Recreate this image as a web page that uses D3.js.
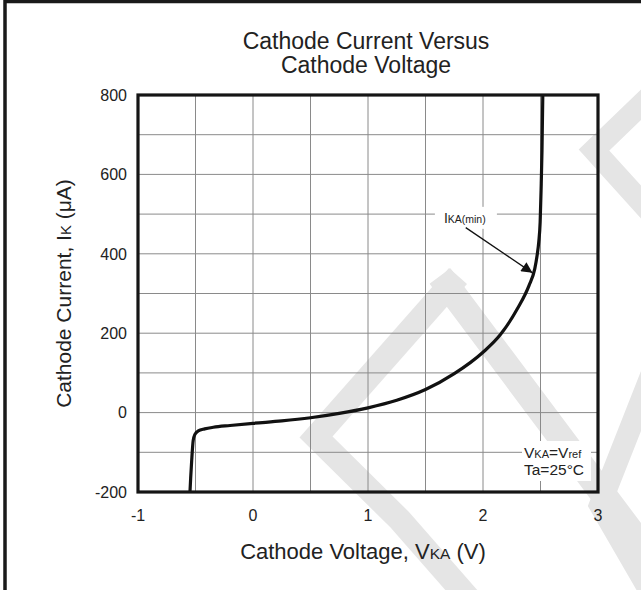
<!DOCTYPE html>
<html>
<head>
<meta charset="utf-8">
<script src="https://cdn.jsdelivr.net/npm/d3@7"></script>
<style>
  body { margin: 0; background: #fff; }
  svg { display: block; font-family: Arial, "Liberation Sans", Helvetica, sans-serif; }
</style>
</head>
<body>
<div id="chart"></div>
<script>
// values (VKA in V, IK in uA)
const vka = [-0.548, -0.542, -0.533, -0.52, -0.505, -0.476, -0.42, -0.345, -0.2, 0.0, 0.25, 0.5, 0.75, 1.0, 1.25, 1.5, 1.75, 2.0, 2.15, 2.3, 2.4, 2.45, 2.47, 2.485, 2.497, 2.505, 2.513, 2.52]
const ik = [-200, -165, -120, -70, -55, -46, -41, -37, -32.5, -27, -21, -13, -2, 12, 31, 58, 98, 152, 196, 262, 320, 362, 395, 430, 480, 560, 660, 800]

const xTicks = [-1, 0, 1, 2, 3]
const yTicks = [-200, 0, 200, 400, 600, 800]
const xGrid = [-0.5, 0, 0.5, 1, 1.5, 2, 2.5]
const yGrid = [-100, 0, 100, 200, 300, 400, 500, 600, 700]

// annotation anchors, in data units
const noteLabel = { x: 1.66, y: 478 }
const noteFrom = { x: 1.85, y: 466 }
const noteTo = { x: 2.43, y: 352 }

const width = 641, height = 590
const plot = { left: 138, right: 598, top: 95, bottom: 492 }
const midX = (plot.left + plot.right) / 2

const svg = d3.select("#chart").append("svg")
  .attr("width", width)
  .attr("height", height)

// faint watermark behind everything
const wm = svg.append("g")
  .attr("fill", "none")
  .attr("stroke", "#e5e5e5")
  .attr("stroke-linejoin", "miter")
const wmPaths = [
  { w: 22, p: [[650, 96], [594, 150], [650, 212]] },
  { w: 26, p: [[440, 276], [600, 490], [660, 570]] },
  { w: 24, p: [[458, 276], [316, 437], [400, 520], [470, 600]] },
  { w: 22, p: [[665, 340], [600, 505], [655, 600]] }
]
wm.selectAll("path")
  .data(wmPaths)
  .join("path")
  .attr("stroke-width", d => d.w)
  .attr("d", d => d3.line()(d.p))

// outer frame (only left and top visible)
svg.append("rect")
  .attr("x", 5)
  .attr("y", 1.5)
  .attr("width", 800)
  .attr("height", 800)
  .attr("fill", "none")
  .attr("stroke", "#1a1a1a")
  .attr("stroke-width", 3.5)

const x = d3.scaleLinear().domain([-1, 3]).range([plot.left, plot.right])
const y = d3.scaleLinear().domain([-200, 800]).range([plot.bottom, plot.top])

// grid
const grid = svg.append("g")
  .attr("stroke", "#8a8a8a")
  .attr("stroke-width", 1)
grid.selectAll(".vg")
  .data(xGrid)
  .join("line")
  .attr("class", "vg")
  .attr("x1", d => x(d)).attr("x2", d => x(d))
  .attr("y1", plot.top).attr("y2", plot.bottom)
grid.selectAll(".hg")
  .data(yGrid)
  .join("line")
  .attr("class", "hg")
  .attr("x1", plot.left).attr("x2", plot.right)
  .attr("y1", d => y(d)).attr("y2", d => y(d))

// tick labels
svg.append("g")
  .attr("font-size", 16)
  .attr("fill", "#222")
  .attr("text-anchor", "end")
  .selectAll("text")
  .data(yTicks)
  .join("text")
  .attr("x", plot.left - 11)
  .attr("y", d => y(d))
  .attr("dy", "0.36em")
  .text(d => d)

svg.append("g")
  .attr("font-size", 16)
  .attr("fill", "#222")
  .attr("text-anchor", "middle")
  .selectAll("text")
  .data(xTicks)
  .join("text")
  .attr("x", d => x(d))
  .attr("y", plot.bottom + 29)
  .text(d => d)

// curve
const pts = vka.map((v, i) => [v, ik[i]])
svg.append("path")
  .datum(pts)
  .attr("fill", "none")
  .attr("stroke", "#111")
  .attr("stroke-width", 3.2)
  .attr("stroke-linejoin", "round")
  .attr("d", d3.line()
    .x(d => x(d[0]))
    .y(d => y(d[1]))
    .curve(d3.curveMonotoneX))

// plot border
svg.append("rect")
  .attr("x", plot.left)
  .attr("y", plot.top)
  .attr("width", plot.right - plot.left)
  .attr("height", plot.bottom - plot.top)
  .attr("fill", "none")
  .attr("stroke", "#151515")
  .attr("stroke-width", 3.2)

// IKA(min) note
svg.append("rect")
  .attr("x", x(noteLabel.x) - 9)
  .attr("y", y(noteLabel.y) - 16)
  .attr("width", 62)
  .attr("height", 22)
  .attr("fill", "#fff")
const note = svg.append("text")
  .attr("x", x(noteLabel.x))
  .attr("y", y(noteLabel.y))
  .attr("font-size", 14)
  .attr("fill", "#222")
note.append("tspan").text("I")
note.append("tspan").attr("font-size", 10.5).text("KA(min)")

svg.append("defs").append("marker")
  .attr("id", "head")
  .attr("viewBox", "0 0 10 10")
  .attr("refX", 10).attr("refY", 5)
  .attr("markerWidth", 14).attr("markerHeight", 11)
  .attr("markerUnits", "userSpaceOnUse")
  .attr("orient", "auto")
  .append("path")
  .attr("d", "M0,0L10,5L0,10z")
  .attr("fill", "#111")
svg.append("line")
  .attr("x1", x(noteFrom.x)).attr("y1", y(noteFrom.y))
  .attr("x2", x(noteTo.x)).attr("y2", y(noteTo.y))
  .attr("stroke", "#111")
  .attr("stroke-width", 1.3)
  .attr("marker-end", "url(#head)")

// conditions box
svg.append("rect")
  .attr("x", 522)
  .attr("y", 441)
  .attr("width", 69)
  .attr("height", 40)
  .attr("fill", "#fff")
const c1 = svg.append("text")
  .attr("x", 524).attr("y", 458)
  .attr("font-size", 15.5)
  .attr("fill", "#222")
c1.append("tspan").text("V")
c1.append("tspan").attr("font-size", 11).text("KA")
c1.append("tspan").text("=V")
c1.append("tspan").attr("font-size", 11).text("ref")
svg.append("text")
  .attr("x", 524).attr("y", 475)
  .attr("font-size", 15.5)
  .attr("fill", "#222")
  .text("Ta=25°C")

// titles
const title = svg.append("g")
  .attr("font-size", 23)
  .attr("fill", "#222")
  .attr("text-anchor", "middle")
title.append("text").attr("x", midX - 2).attr("y", 49).text("Cathode Current Versus")
title.append("text").attr("x", midX - 2).attr("y", 73).text("Cathode Voltage")

const xl = svg.append("text")
  .attr("x", midX - 5)
  .attr("y", 559)
  .attr("font-size", 22)
  .attr("fill", "#222")
  .attr("text-anchor", "middle")
xl.append("tspan").text("Cathode Voltage, V")
xl.append("tspan").attr("font-size", 15.5).text("KA")
xl.append("tspan").text(" (V)")

const yl = svg.append("text")
  .attr("transform", `translate(71,${(plot.top + plot.bottom) / 2}) rotate(-90)`)
  .attr("font-size", 21)
  .attr("fill", "#222")
  .attr("text-anchor", "middle")
yl.append("tspan").text("Cathode Current, I")
yl.append("tspan").attr("font-size", 15).text("K")
yl.append("tspan").text(" (μA)")
</script>
</body>
</html>
